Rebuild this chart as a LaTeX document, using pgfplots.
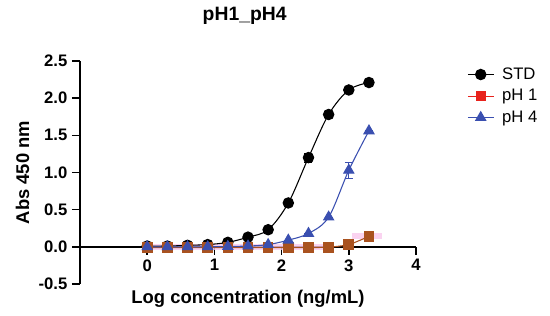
\documentclass[border=0pt]{standalone}
\usepackage{pgfplots}
\pgfplotsset{compat=1.18}
\usepackage{fontspec}
\setmainfont{Liberation Sans}
\definecolor{stdcol}{HTML}{000000}
\definecolor{phonecol}{HTML}{A9521F}
\definecolor{phonelg}{HTML}{E8221C}
\definecolor{phfourcol}{HTML}{3A4FB0}
\definecolor{pinkband}{HTML}{F9C8EC}
\begin{document}
\begin{tikzpicture}
\begin{axis}[
  scale only axis,
  width=252pt, height=167.25pt,
  xmin=-1, xmax=4, ymin=-0.5, ymax=2.5,
  axis x line=middle, axis y line=left,
  axis line style={-, line width=1.1pt},
  xtick={0,1,2,3,4},
  ytick={-0.5,0,0.5,1,1.5,2,2.5},
  tick align=outside,
  major tick length=6pt,
  tick style={line width=1.1pt, black},
  yticklabel style={/pgf/number format/fixed, /pgf/number format/fixed zerofill, /pgf/number format/precision=1},
  /pgf/number format/assume math mode=true,
  tick label style={font=\fontsize{12.5}{14}\selectfont\bfseries},
  xlabel={Log concentration (ng/mL)},
  ylabel={Abs 450 nm},
  xlabel style={font=\fontsize{13.8}{16}\selectfont\bfseries, at={(rel axis cs:0.5,0)}, anchor=north, yshift=-1pt},
  ylabel style={font=\fontsize{13.8}{16}\selectfont\bfseries},
  title={pH1\_pH4},
  title style={font=\fontsize{14.5}{16}\selectfont\bfseries, at={(rel axis cs:0.49,1)}, anchor=south, yshift=18pt},
  legend style={at={(rel axis cs:1.14,0.995)}, anchor=north west, draw=none, fill=none,
    font=\fontsize{12.5}{15}\selectfont, row sep=2pt},
  legend cell align=left,
  legend image code/.code={
    \draw[mark repeat=2, mark phase=2] plot coordinates {(0cm,0cm) (0.34cm,0cm) (0.68cm,0cm)};
  },
  clip=false,
]
% faint pink band behind the low points
\addplot[fill=pinkband, draw=none, forget plot, opacity=0.8] coordinates {(-0.05,-0.045) (2.75,-0.045) (2.75,0.035) (-0.05,0.035)} -- cycle;
\addplot[fill=pinkband, draw=none, forget plot, opacity=0.8] coordinates {(3.05,0.1) (3.5,0.1) (3.5,0.19) (3.05,0.19)} -- cycle;

% STD
\addplot[stdcol, line width=0.8pt, smooth, tension=0.55, mark=*, mark size=3.9pt,
  error bars/.cd, y dir=both, y explicit, error bar style={line width=0.8pt}, error mark options={rotate=90, mark size=3pt, line width=0.8pt}]
  coordinates {
  (0,0.01) +- (0,0) (0.3,0.01) +- (0,0) (0.6,0.02) +- (0,0) (0.9,0.03) +- (0,0)
  (1.2,0.06) +- (0,0) (1.5,0.13) +- (0,0) (1.8,0.23) +- (0,0) (2.1,0.59) +- (0,0)
  (2.4,1.2) +- (0,0.06) (2.7,1.78) +- (0,0) (3.0,2.11) +- (0,0) (3.3,2.21) +- (0,0)
};
\addlegendentry{\hspace{4pt}STD}

% pH 1
\addplot[phonecol, line width=0.8pt, smooth, tension=0.4, mark=square*, mark size=3.6pt, forget plot]
  coordinates {
  (0,-0.01) (0.3,-0.01) (0.6,-0.01) (0.9,-0.01) (1.2,-0.01) (1.5,-0.01)
  (1.8,-0.01) (2.1,-0.01) (2.4,-0.01) (2.7,-0.005) (3.0,0.03) (3.3,0.14)
};
\addlegendimage{phonelg, line width=0.8pt, mark=square*, mark size=3.3pt}
\addlegendentry{\hspace{4pt}pH 1}

% pH 4
\addplot[phfourcol, line width=0.8pt, smooth, tension=0.55, mark=triangle*, mark size=4.3pt,
  error bars/.cd, y dir=both, y explicit, error bar style={line width=0.8pt}, error mark options={rotate=90, mark size=3pt, line width=0.8pt}]
  coordinates {
  (0,0) +- (0,0) (0.3,0) +- (0,0) (0.6,0) +- (0,0) (0.9,0) +- (0,0)
  (1.2,0.005) +- (0,0) (1.5,0.01) +- (0,0) (1.8,0.03) +- (0,0) (2.1,0.09) +- (0,0)
  (2.4,0.18) +- (0,0) (2.7,0.4) +- (0,0) (3.0,1.03) +- (0,0.11) (3.3,1.56) +- (0,0)
};
\addlegendentry{\hspace{4pt}pH 4}

% page frame, same proportions as the reference
\path[use as bounding box] (rel axis cs:-0.2381,-0.1435) rectangle (rel axis cs:1.3988,1.2735);
\end{axis}
\end{tikzpicture}
\end{document}
